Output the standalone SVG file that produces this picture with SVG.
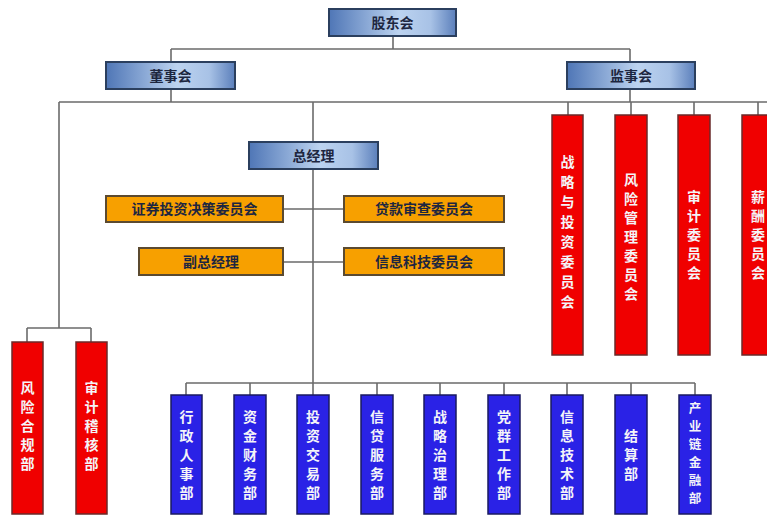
<svg xmlns="http://www.w3.org/2000/svg" width="767" height="517" viewBox="0 0 767 517">
<defs>
<linearGradient id="bg" x1="0" y1="0" x2="1" y2="0">
<stop offset="0" stop-color="#4f76b6"/>
<stop offset="0.55" stop-color="#bcd3f0"/>
<stop offset="0.8" stop-color="#a8c2e6"/>
<stop offset="1" stop-color="#5b7fbb"/>
</linearGradient>
<style>
.bx{fill:url(#bg);stroke:#2b3f5e;stroke-width:2}
.ob{fill:#f7a000;stroke:#5b4a30;stroke-width:2}
.rb{fill:#f00000;stroke:#6a2a2a;stroke-width:1.5}
.bb{fill:#2a22e6;stroke:#1a1a60;stroke-width:1.5}
.t{font-family:"Noto Sans CJK SC","Noto Sans",sans-serif;font-weight:bold;font-size:14px;text-anchor:middle;fill:#1d2640}
.tv{font-family:"Noto Sans CJK SC","Noto Sans",sans-serif;font-weight:bold;font-size:14px;text-anchor:middle;fill:#f4f4f8}
.sm{font-size:12.5px}
.ln{fill:none;stroke:#6b6b6b;stroke-width:1.6}
</style>
</defs>
<rect width="767" height="517" fill="#ffffff"/>
<g id="connectors" class="ln">
<path d="M393 36V49M171 49H630M171 49V62M630 49V62M171 89V102M630 89V102M59 102H767"/>
<path d="M568 102V115M631 102V115M694 102V115M758 102V115"/>
<path d="M313 102V142M313 169V383M283 209H344M283 262H344"/>
<path d="M186 383H695M186 383V395M250 383V395M313 383V395M377 383V395M440 383V395M504 383V395M567 383V395M631 383V395M695 383V395"/>
<path d="M59 102V328M27 328H91M27 328V342M91 328V342"/>
</g>
<g id="gdh"><rect class="bx" x="329" y="9" width="127" height="27"/><text class="t" x="392.5" y="27.5">股东会</text></g>
<g id="dsh"><rect class="bx" x="106" y="62" width="129" height="27"/><text class="t" x="170.5" y="80.5">董事会</text></g>
<g id="jsh"><rect class="bx" x="567" y="62" width="128" height="27"/><text class="t" x="631" y="80.5">监事会</text></g>
<g id="zjl"><rect class="bx" x="249" y="142" width="129" height="27"/><text class="t" x="313.5" y="160.5">总经理</text></g>
<g id="zqtz"><rect class="ob" x="106" y="196" width="177" height="26"/><text class="t" x="194.5" y="214">证券投资决策委员会</text></g>
<g id="dksc"><rect class="ob" x="344" y="196" width="160" height="26"/><text class="t" x="424" y="214">贷款审查委员会</text></g>
<g id="fzjl"><rect class="ob" x="139" y="248" width="144" height="27"/><text class="t" x="211" y="266.5">副总经理</text></g>
<g id="xxkj"><rect class="ob" x="344" y="248" width="160" height="27"/><text class="t" x="424" y="266.5">信息科技委员会</text></g>
<g id="zlytz"><rect class="rb" x="552" y="115" width="31" height="240"/><text class="tv"><tspan x="567.5" y="167">战</tspan><tspan x="567.5" y="187">略</tspan><tspan x="567.5" y="207">与</tspan><tspan x="567.5" y="227">投</tspan><tspan x="567.5" y="247">资</tspan><tspan x="567.5" y="267">委</tspan><tspan x="567.5" y="287">员</tspan><tspan x="567.5" y="307">会</tspan></text></g>
<g id="fxgl"><rect class="rb" x="615" y="115" width="32" height="240"/><text class="tv"><tspan x="631" y="185">风</tspan><tspan x="631" y="204">险</tspan><tspan x="631" y="223">管</tspan><tspan x="631" y="242">理</tspan><tspan x="631" y="261">委</tspan><tspan x="631" y="280">员</tspan><tspan x="631" y="299">会</tspan></text></g>
<g id="sjwyh"><rect class="rb" x="678" y="115" width="32" height="240"/><text class="tv"><tspan x="694" y="202">审</tspan><tspan x="694" y="221">计</tspan><tspan x="694" y="240">委</tspan><tspan x="694" y="259">员</tspan><tspan x="694" y="278">会</tspan></text></g>
<g id="xcwyh"><rect class="rb" x="742" y="115" width="32" height="240"/><text class="tv"><tspan x="758" y="202">薪</tspan><tspan x="758" y="221">酬</tspan><tspan x="758" y="240">委</tspan><tspan x="758" y="259">员</tspan><tspan x="758" y="278">会</tspan></text></g>
<g id="fxhg"><rect class="rb" x="12" y="342" width="31" height="172"/><text class="tv"><tspan x="27.5" y="393">风</tspan><tspan x="27.5" y="412">险</tspan><tspan x="27.5" y="431">合</tspan><tspan x="27.5" y="450">规</tspan><tspan x="27.5" y="469">部</tspan></text></g>
<g id="sjjh"><rect class="rb" x="76" y="342" width="31" height="172"/><text class="tv"><tspan x="91.5" y="393">审</tspan><tspan x="91.5" y="412">计</tspan><tspan x="91.5" y="431">稽</tspan><tspan x="91.5" y="450">核</tspan><tspan x="91.5" y="469">部</tspan></text></g>
<g id="xzrs"><rect class="bb" x="171" y="395" width="31" height="119"/><text class="tv"><tspan x="186.5" y="422">行</tspan><tspan x="186.5" y="441">政</tspan><tspan x="186.5" y="460">人</tspan><tspan x="186.5" y="479">事</tspan><tspan x="186.5" y="498">部</tspan></text></g>
<g id="zjcw"><rect class="bb" x="234" y="395" width="32" height="119"/><text class="tv"><tspan x="250" y="422">资</tspan><tspan x="250" y="441">金</tspan><tspan x="250" y="460">财</tspan><tspan x="250" y="479">务</tspan><tspan x="250" y="498">部</tspan></text></g>
<g id="tzjy"><rect class="bb" x="297" y="395" width="32" height="119"/><text class="tv"><tspan x="313" y="422">投</tspan><tspan x="313" y="441">资</tspan><tspan x="313" y="460">交</tspan><tspan x="313" y="479">易</tspan><tspan x="313" y="498">部</tspan></text></g>
<g id="xdfw"><rect class="bb" x="361" y="395" width="32" height="119"/><text class="tv"><tspan x="377" y="422">信</tspan><tspan x="377" y="441">贷</tspan><tspan x="377" y="460">服</tspan><tspan x="377" y="479">务</tspan><tspan x="377" y="498">部</tspan></text></g>
<g id="zlzl"><rect class="bb" x="424" y="395" width="32" height="119"/><text class="tv"><tspan x="440" y="422">战</tspan><tspan x="440" y="441">略</tspan><tspan x="440" y="460">治</tspan><tspan x="440" y="479">理</tspan><tspan x="440" y="498">部</tspan></text></g>
<g id="dqgz"><rect class="bb" x="488" y="395" width="32" height="119"/><text class="tv"><tspan x="504" y="422">党</tspan><tspan x="504" y="441">群</tspan><tspan x="504" y="460">工</tspan><tspan x="504" y="479">作</tspan><tspan x="504" y="498">部</tspan></text></g>
<g id="xxjs"><rect class="bb" x="551" y="395" width="32" height="119"/><text class="tv"><tspan x="567" y="422">信</tspan><tspan x="567" y="441">息</tspan><tspan x="567" y="460">技</tspan><tspan x="567" y="479">术</tspan><tspan x="567" y="498">部</tspan></text></g>
<g id="jsb"><rect class="bb" x="615" y="395" width="32" height="119"/><text class="tv"><tspan x="631" y="441">结</tspan><tspan x="631" y="460">算</tspan><tspan x="631" y="479">部</tspan></text></g>
<g id="cyljr"><rect class="bb" x="679" y="395" width="32" height="119"/><text class="tv sm"><tspan x="695" y="413">产</tspan><tspan x="695" y="431">业</tspan><tspan x="695" y="449">链</tspan><tspan x="695" y="467">金</tspan><tspan x="695" y="485">融</tspan><tspan x="695" y="503">部</tspan></text></g>
</svg>
